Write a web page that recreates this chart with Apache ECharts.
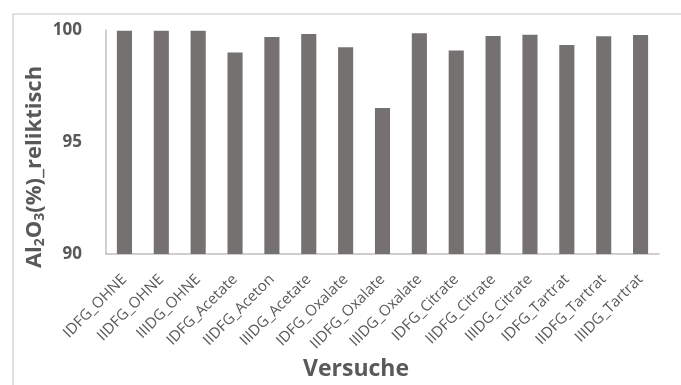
<!DOCTYPE html>
<html>
<head>
<meta charset="utf-8">
<script src="https://cdn.jsdelivr.net/npm/echarts@6/dist/echarts.min.js"></script>
<style>
  html, body { margin: 0; padding: 0; background: #fff; }
  #chart { width: 681px; height: 385px; }
</style>
</head>
<body>
<div id="chart"></div>
<script>
// Versuche (experiments) on the category axis
const categories = [
  'IDFG_OHNE', 'IIDFG_OHNE', 'IIIDG_OHNE',
  'IDFG_Acetate', 'IIDFG_Aceton', 'IIIDG_Acetate',
  'IDFG_Oxalate', 'IIDFG_Oxalate', 'IIIDG_Oxalate',
  'IDFG_Citrate', 'IIDFG_Citrate', 'IIIDG_Citrate',
  'IDFG_Tartrat', 'IIDFG_Tartrat', 'IIIDG_Tartrat'
];

// Al2O3 (%) relict content per experiment
const al2o3Values = [
  99.97, 99.97, 99.97,
  98.99, 99.69, 99.82,
  99.23, 96.52, 99.85,
  99.08, 99.73, 99.79,
  99.33, 99.72, 99.78
];

// Value axis range
const yMin = 90;
const yMax = 100;
const yStep = 5;

const textColor = '#595959';
const fontFamily = '"Open Sans", "Liberation Sans", sans-serif';

const chart = echarts.init(document.getElementById('chart'), null, { renderer: 'canvas' });

chart.setOption({
  animation: false,
  backgroundColor: '#ffffff',
  grid: { left: 106, right: 22, top: 30, bottom: 131, containLabel: false },
  xAxis: {
    type: 'category',
    data: categories,
    axisLine: { show: true, lineStyle: { color: '#bfbfbf', width: 1.5 } },
    axisTick: { show: false },
    axisLabel: {
      interval: 0,
      rotate: 45,
      margin: 23,
      color: textColor,
      fontFamily: fontFamily,
      fontSize: 15
    }
  },
  yAxis: {
    type: 'value',
    min: yMin,
    max: yMax,
    interval: yStep,
    axisLine: { show: true, lineStyle: { color: '#bfbfbf', width: 1.5 } },
    axisTick: { show: false },
    splitLine: { show: false },
    axisLabel: {
      margin: 24,
      color: textColor,
      fontFamily: fontFamily,
      fontSize: 17,
      fontWeight: 'bold'
    }
  },
  series: [{
    type: 'bar',
    data: al2o3Values,
    barCategoryGap: '59%',
    itemStyle: { color: '#757171' }
  }],
  graphic: [
    {
      // outer chart frame
      type: 'rect',
      shape: { x: 13, y: 14, width: 700, height: 400 },
      style: { fill: 'none', stroke: '#d9d9d9', lineWidth: 1.5 },
      silent: true,
      z: -1
    },
    {
      // value axis title with chemical subscripts
      type: 'text',
      x: 35,
      y: 167,
      rotation: Math.PI / 2,
      style: {
        text: '{a|Al}{s|2}{a|O}{s|3}{a|(%)_reliktisch}',
        align: 'center',
        verticalAlign: 'middle',
        rich: {
          a: { fill: textColor, fontFamily: fontFamily, fontSize: 22, fontWeight: 'bold' },
          s: { fill: textColor, fontFamily: fontFamily, fontSize: 14, fontWeight: 'bold', verticalAlign: 'bottom', padding: [10, 0, 0, 0] }
        }
      }
    },
    {
      // category axis title
      type: 'text',
      x: 356,
      y: 369,
      style: {
        text: 'Versuche',
        fill: textColor,
        font: 'bold 23px "Open Sans", "Liberation Sans", sans-serif',
        align: 'center',
        verticalAlign: 'middle'
      }
    }
  ]
});
</script>
</body>
</html>
